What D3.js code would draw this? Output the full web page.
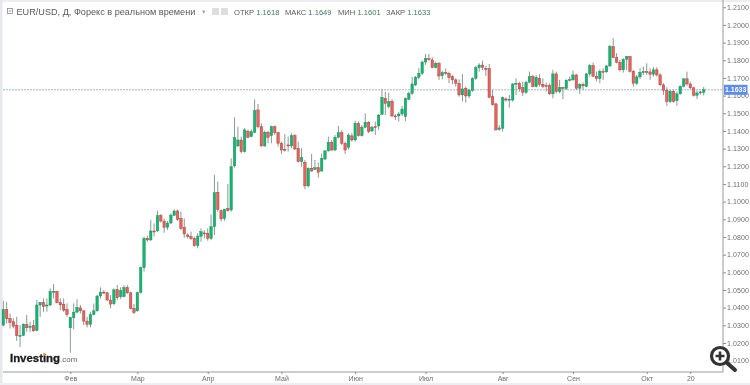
<!DOCTYPE html>
<html>
<head>
<meta charset="utf-8">
<script src="https://cdn.jsdelivr.net/npm/d3@7"></script>
<style>
html, body { margin: 0; padding: 0; background: #fff; overflow: hidden; }
svg { display: block; font-family: "Liberation Sans", Arial, sans-serif; filter: blur(0.35px); }
</style>
</head>
<body>
<svg id="chart" width="750" height="385"></svg>
<script>
'use strict';

var opens = [
    1.0301,1.0390,1.0339,1.0320,1.0301,1.0239,1.0243,1.0305,1.0288,1.0299,
    1.0271,1.0415,1.0430,1.0409,1.0415,1.0488,1.0492,1.0430,1.0420,1.0390,
    1.0286,1.0343,1.0375,1.0399,1.0382,1.0324,1.0305,1.0360,1.0382,1.0466,
    1.0488,1.0484,1.0443,1.0422,1.0503,1.0462,1.0462,1.0515,1.0484,1.0396,
    1.0382,1.0486,1.0626,1.0792,1.0783,1.0834,1.0834,1.0921,1.0890,1.0855,
    1.0879,1.0922,1.0947,1.0905,1.0855,1.0811,1.0802,1.0792,1.0751,1.0804,
    1.0823,1.0821,1.0792,1.0858,1.1053,1.0949,1.0905,1.0962,1.0953,1.1202,
    1.1315,1.1349,1.1283,1.1398,1.1368,1.1392,1.1519,1.1424,1.1315,1.1392,
    1.1373,1.1424,1.1390,1.1330,1.1296,1.1321,1.1315,1.1373,1.1302,1.1226,
    1.1223,1.1089,1.1189,1.1183,1.1192,1.1173,1.1241,1.1287,1.1336,1.1292,
    1.1364,1.1390,1.1330,1.1307,1.1372,1.1349,1.1443,1.1373,1.1421,1.1449,
    1.1400,1.1425,1.1428,1.1494,1.1585,1.1538,1.1568,1.1485,1.1485,1.1496,
    1.1481,1.1579,1.1613,1.1660,1.1704,1.1726,1.1790,1.1809,1.1802,1.1758,
    1.1783,1.1713,1.1732,1.1726,1.1707,1.1689,1.1670,1.1604,1.1641,1.1598,
    1.1628,1.1698,1.1758,1.1773,1.1753,1.1753,1.1594,1.1553,1.1409,1.1415,
    1.1581,1.1575,1.1575,1.1666,1.1670,1.1645,1.1619,1.1676,1.1708,1.1651,
    1.1698,1.1664,1.1657,1.1659,1.1610,1.1723,1.1623,1.1646,1.1640,1.1687,
    1.1689,1.1717,1.1642,1.1664,1.1651,1.1723,1.1770,1.1710,1.1696,1.1738,
    1.1734,1.1768,1.1878,1.1815,1.1789,1.1746,1.1806,1.1821,1.1738,1.1670,
    1.1706,1.1732,1.1736,1.1734,1.1721,1.1746,1.1717,1.1661,1.1630,1.1566,
    1.1625,1.1572,1.1610,1.1653,1.1695,1.1666,1.1644,1.1602,1.1615,1.1618
];
var highs = [
    1.0439,1.0433,1.0367,1.0339,1.0348,1.0301,1.0311,1.0358,1.0320,1.0330,
    1.0443,1.0430,1.0452,1.0452,1.0509,1.0534,1.0496,1.0452,1.0452,1.0424,
    1.0348,1.0424,1.0447,1.0415,1.0386,1.0348,1.0377,1.0424,1.0471,1.0515,
    1.0500,1.0490,1.0471,1.0509,1.0528,1.0515,1.0528,1.0528,1.0490,1.0420,
    1.0490,1.0632,1.0802,1.0807,1.0896,1.0877,1.0949,1.0930,1.0905,1.0890,
    1.0934,1.0956,1.0956,1.0943,1.0905,1.0821,1.0830,1.0802,1.0821,1.0849,
    1.0839,1.0849,1.0928,1.1151,1.1113,1.0956,1.0958,1.1100,1.1245,1.1477,
    1.1424,1.1368,1.1415,1.1409,1.1409,1.1579,1.1553,1.1443,1.1402,1.1400,
    1.1430,1.1430,1.1396,1.1340,1.1383,1.1368,1.1387,1.1383,1.1340,1.1302,
    1.1236,1.1194,1.1270,1.1236,1.1221,1.1273,1.1292,1.1368,1.1349,1.1377,
    1.1428,1.1405,1.1340,1.1387,1.1387,1.1458,1.1453,1.1434,1.1500,1.1456,
    1.1428,1.1453,1.1496,1.1636,1.1622,1.1617,1.1579,1.1496,1.1509,1.1541,
    1.1590,1.1622,1.1707,1.1711,1.1755,1.1798,1.1836,1.1836,1.1817,1.1792,
    1.1792,1.1741,1.1755,1.1736,1.1717,1.1698,1.1692,1.1722,1.1651,1.1636,
    1.1704,1.1768,1.1783,1.1798,1.1768,1.1779,1.1632,1.1560,1.1434,1.1594,
    1.1590,1.1604,1.1670,1.1698,1.1679,1.1679,1.1685,1.1736,1.1717,1.1717,
    1.1721,1.1698,1.1674,1.1670,1.1746,1.1736,1.1689,1.1651,1.1693,1.1708,
    1.1742,1.1723,1.1670,1.1674,1.1727,1.1780,1.1787,1.1736,1.1749,1.1755,
    1.1774,1.1887,1.1925,1.1840,1.1802,1.1812,1.1825,1.1825,1.1746,1.1717,
    1.1755,1.1764,1.1783,1.1755,1.1761,1.1761,1.1727,1.1670,1.1647,1.1632,
    1.1632,1.1623,1.1657,1.1698,1.1736,1.1680,1.1651,1.1629,1.1627,1.1649
];
var lows = [
    1.0295,1.0311,1.0282,1.0282,1.0212,1.0178,1.0239,1.0263,1.0263,1.0263,
    1.0267,1.0348,1.0377,1.0377,1.0409,1.0452,1.0424,1.0386,1.0377,1.0348,
    1.0146,1.0277,1.0367,1.0367,1.0301,1.0288,1.0288,1.0358,1.0377,1.0452,
    1.0477,1.0439,1.0396,1.0415,1.0443,1.0450,1.0458,1.0477,1.0390,1.0363,
    1.0377,1.0480,1.0604,1.0774,1.0779,1.0802,1.0830,1.0882,1.0824,1.0840,
    1.0873,1.0919,1.0892,1.0839,1.0796,1.0792,1.0783,1.0745,1.0736,1.0773,
    1.0792,1.0779,1.0783,1.0811,1.0943,1.0887,1.0892,1.0943,1.0943,1.1192,
    1.1311,1.1273,1.1277,1.1358,1.1364,1.1387,1.1415,1.1311,1.1311,1.1330,
    1.1330,1.1377,1.1311,1.1270,1.1283,1.1283,1.1302,1.1292,1.1221,1.1198,
    1.1070,1.1081,1.1170,1.1179,1.1136,1.1170,1.1236,1.1283,1.1287,1.1287,
    1.1358,1.1321,1.1270,1.1296,1.1340,1.1340,1.1368,1.1368,1.1415,1.1387,
    1.1396,1.1377,1.1406,1.1490,1.1490,1.1528,1.1477,1.1462,1.1453,1.1485,
    1.1456,1.1575,1.1604,1.1655,1.1692,1.1717,1.1773,1.1798,1.1755,1.1755,
    1.1689,1.1692,1.1717,1.1670,1.1664,1.1651,1.1594,1.1566,1.1560,1.1585,
    1.1622,1.1689,1.1736,1.1745,1.1711,1.1585,1.1543,1.1402,1.1402,1.1396,
    1.1566,1.1532,1.1566,1.1604,1.1622,1.1598,1.1609,1.1670,1.1647,1.1647,
    1.1651,1.1642,1.1623,1.1604,1.1585,1.1613,1.1613,1.1580,1.1632,1.1680,
    1.1685,1.1632,1.1610,1.1632,1.1647,1.1708,1.1704,1.1680,1.1670,1.1689,
    1.1730,1.1761,1.1812,1.1783,1.1736,1.1730,1.1746,1.1730,1.1651,1.1661,
    1.1693,1.1717,1.1717,1.1689,1.1708,1.1708,1.1655,1.1604,1.1542,1.1557,
    1.1560,1.1542,1.1604,1.1647,1.1655,1.1636,1.1595,1.1581,1.1604,1.1601
];
var closes = [
    1.0390,1.0337,1.0316,1.0295,1.0241,1.0243,1.0307,1.0286,1.0295,1.0269,
    1.0415,1.0430,1.0405,1.0415,1.0492,1.0492,1.0428,1.0416,1.0386,1.0362,
    1.0345,1.0375,1.0401,1.0382,1.0324,1.0305,1.0360,1.0382,1.0466,1.0488,
    1.0484,1.0443,1.0420,1.0501,1.0456,1.0496,1.0513,1.0484,1.0396,1.0373,
    1.0486,1.0626,1.0792,1.0783,1.0834,1.0830,1.0921,1.0890,1.0855,1.0879,
    1.0924,1.0947,1.0900,1.0849,1.0817,1.0802,1.0792,1.0751,1.0805,1.0830,
    1.0819,1.0792,1.0858,1.1051,1.0956,1.0902,1.0958,1.0949,1.1198,1.1364,
    1.1349,1.1283,1.1406,1.1364,1.1396,1.1515,1.1424,1.1315,1.1392,1.1364,
    1.1424,1.1390,1.1330,1.1292,1.1292,1.1315,1.1373,1.1298,1.1226,1.1249,
    1.1089,1.1189,1.1173,1.1192,1.1166,1.1245,1.1287,1.1336,1.1292,1.1364,
    1.1390,1.1330,1.1292,1.1377,1.1349,1.1443,1.1373,1.1421,1.1449,1.1396,
    1.1421,1.1423,1.1490,1.1589,1.1556,1.1566,1.1485,1.1481,1.1496,1.1524,
    1.1585,1.1613,1.1666,1.1704,1.1726,1.1790,1.1811,1.1806,1.1758,1.1783,
    1.1711,1.1730,1.1728,1.1702,1.1689,1.1670,1.1604,1.1638,1.1598,1.1632,
    1.1698,1.1760,1.1773,1.1758,1.1749,1.1590,1.1549,1.1406,1.1417,1.1589,
    1.1575,1.1579,1.1666,1.1670,1.1638,1.1619,1.1675,1.1708,1.1651,1.1704,
    1.1664,1.1651,1.1653,1.1610,1.1723,1.1623,1.1646,1.1640,1.1687,1.1691,
    1.1717,1.1642,1.1664,1.1655,1.1723,1.1770,1.1710,1.1696,1.1738,1.1736,
    1.1768,1.1878,1.1815,1.1789,1.1746,1.1806,1.1821,1.1738,1.1670,1.1706,
    1.1732,1.1736,1.1732,1.1721,1.1746,1.1717,1.1661,1.1630,1.1566,1.1625,
    1.1566,1.1610,1.1653,1.1695,1.1666,1.1644,1.1602,1.1615,1.1621,1.1633
];

var priceTicks = [1.01,1.02,1.03,1.04,1.05,1.06,1.07,1.08,1.09,1.10,1.11,
    1.12,1.13,1.14,1.15,1.16,1.17,1.18,1.19,1.20,1.21];
var monthLabels = ["Фев","Мар","Апр","Май","Июн","Июл","Авг","Сен","Окт","20"];
var monthIndex  = [20, 40, 61, 83, 105, 126, 149, 170, 192, 205];
var lastPrice = 1.1633;

var svg = d3.select("#chart");
var x = d3.scaleLinear().domain([0, closes.length - 1]).range([3.3, 703.7]);
var y = d3.scaleLinear().domain([1.02, 1.19]).range([343, 42.6]);

// chrome strips round the plot
svg.append("rect").attr("width", 750).attr("height", 385).attr("fill", "#fff");
svg.append("rect").attr("width", 750).attr("height", 2).attr("fill", "#eceef2");
svg.append("rect").attr("width", 2.5).attr("height", 385).attr("fill", "#e6e8ee");
svg.append("rect").attr("y", 383).attr("width", 750).attr("height", 2).attr("fill", "#eceef2");

// last price line, under the candles
svg.append("line")
    .attr("x1", 3).attr("x2", 723)
    .attr("y1", y(lastPrice)).attr("y2", y(lastPrice))
    .attr("stroke", "#a9b4dc").attr("stroke-width", 1)
    .attr("stroke-dasharray", "2,1");

// candles
var idx = d3.range(closes.length);
function up(i) { return closes[i] >= opens[i]; }

svg.append("g").selectAll("line").data(idx).enter().append("line")
    .attr("x1", function(i){return x(i);})
    .attr("x2", function(i){return x(i);})
    .attr("y1", function(i){return y(highs[i]);})
    .attr("y2", function(i){return y(lows[i]);})
    .attr("stroke", "#7c8f86").attr("stroke-width", 0.9);

svg.append("g").selectAll("rect").data(idx).enter().append("rect")
    .attr("x", function(i){return x(i) - 1.25;})
    .attr("width", 2.5)
    .attr("y", function(i){return y(Math.max(opens[i], closes[i]));})
    .attr("height", function(i){return Math.max(1, Math.abs(y(opens[i]) - y(closes[i])));})
    .attr("fill", function(i){return up(i) ? "#0db96f" : "#e8625a";})
    .attr("stroke", function(i){return up(i) ? "#2d7d5a" : "#9a3a36";})
    .attr("stroke-width", 0.4);

// right axis
var yAxis = d3.axisRight(y).tickValues(priceTicks).tickFormat(d3.format(".4f")).tickSize(3).tickPadding(1);
var yG = svg.append("g").attr("transform", "translate(723,0)").call(yAxis);
yG.select(".domain").remove();
yG.selectAll("line").attr("stroke", "#8a8a8a");
yG.selectAll("text").attr("fill", "#6e6e6e").style("font-size", "7px").style("letter-spacing", "0.1px");
svg.append("line").attr("x1", 723).attr("x2", 723).attr("y1", 0).attr("y2", 372).attr("stroke", "#9a9a9a");

// bottom axis
svg.append("line").attr("x1", 3).attr("x2", 723).attr("y1", 372).attr("y2", 372).attr("stroke", "#9a9a9a");
var xAxis = d3.axisBottom(x).tickValues(monthIndex)
    .tickFormat(function(d, i){return monthLabels[i];}).tickSize(2).tickPadding(2);
var xG = svg.append("g").attr("transform", "translate(0,372)").call(xAxis);
xG.select(".domain").remove();
xG.selectAll("line").attr("stroke", "#8a8a8a");
xG.selectAll("text").attr("fill", "#6e6e6e").style("font-size", "7px");

// current price box
svg.append("rect").attr("x", 724).attr("y", y(lastPrice) - 5).attr("width", 23.5).attr("height", 10).attr("fill", "#5b8cee");
svg.append("text").attr("x", 735.7).attr("y", y(lastPrice) + 2.5).attr("text-anchor", "middle")
    .attr("fill", "#fff").style("font-size", "7px").style("font-weight", "bold").text(lastPrice.toFixed(4));

// header
var head = svg.append("g");
head.append("rect").attr("x", 7.5).attr("y", 8.5).attr("width", 5).attr("height", 5).attr("fill", "none").attr("stroke", "#8a8a8a").attr("stroke-width", 0.8);
head.append("line").attr("x1", 8.5).attr("x2", 11.5).attr("y1", 11).attr("y2", 11).attr("stroke", "#8a8a8a").attr("stroke-width", 0.8);
head.append("text").attr("x", 16.5).attr("y", 15).attr("fill", "#5a5a5a").style("font-size", "9.15px")
    .text("EUR/USD, Д, Форекс в реальном времени");
head.append("text").attr("x", 202).attr("y", 14).attr("fill", "#aaa").style("font-size", "7px").text("▾");
head.append("rect").attr("x", 212).attr("y", 8).attr("width", 7).attr("height", 7).attr("fill", "#ddd");
head.append("rect").attr("x", 221).attr("y", 8).attr("width", 7).attr("height", 7).attr("fill", "#ddd");

var ohlcNames  = ["ОТКР", "МАКС", "МИН", "ЗАКР"];
var ohlcValues = ["1.1618", "1.1649", "1.1601", "1.1633"];
var ohlcX      = [234, 285, 338, 386];
ohlcNames.forEach(function(name, i){
    var t = head.append("text").attr("x", ohlcX[i]).attr("y", 14.6).style("font-size", "7.6px");
    t.append("tspan").attr("fill", "#5a5a5a").text(name + " ");
    t.append("tspan").attr("fill", "#3f7a5c").text(ohlcValues[i]);
});

// logo
var logo = svg.append("text").attr("x", 10).attr("y", 362).style("font-size", "11.4px");
logo.append("tspan").attr("fill", "#1a1a1a").style("font-weight", "bold").attr("stroke", "#1a1a1a").attr("stroke-width", 0.3).text("Investing");
logo.append("tspan").attr("fill", "#666").style("font-size", "8px").text(".com");
svg.append("rect").attr("x", 43).attr("y", 353).attr("width", 2.2).attr("height", 2).attr("fill", "#f5a623");

// zoom lens
var lens = svg.append("g").attr("transform", "translate(720,356)");
lens.append("line").attr("x1", 6).attr("y1", 6).attr("x2", 15).attr("y2", 14)
    .attr("stroke", "#333").attr("stroke-width", 4).attr("stroke-linecap", "round");
lens.append("circle").attr("r", 8.5).attr("fill", "#fff").attr("stroke", "#333").attr("stroke-width", 3.2);
lens.append("path").attr("d", "M-4.5,0H4.5M0,-4.5V4.5").attr("stroke", "#333").attr("stroke-width", 2.6);
</script>
</body>
</html>
